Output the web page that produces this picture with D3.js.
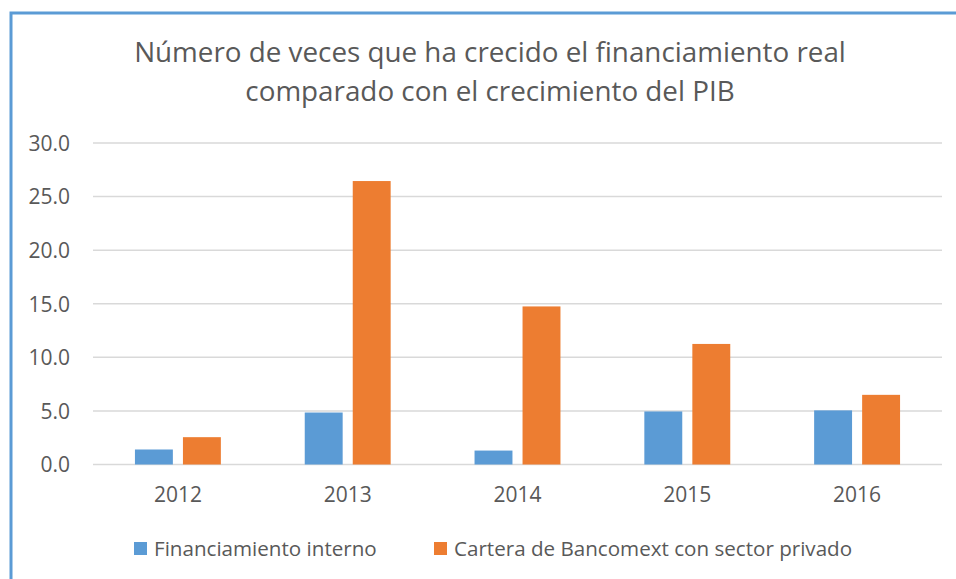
<!DOCTYPE html>
<html>
<head>
<meta charset="utf-8">
<script src="https://cdn.jsdelivr.net/npm/d3@7"></script>
<style>
body { margin: 0; background: #fff; }
svg { display: block; font-family: "Open Sans", "Noto Sans", sans-serif; }
</style>
</head>
<body>
<div id="chart"></div>
<script>
// Data.
var years = ['2012', '2013', '2014', '2015', '2016'];
var seriesNames = ['Financiamiento interno', 'Cartera de Bancomext con sector privado'];
var financiamientoInterno = [1.4, 4.85, 1.3, 4.95, 5.05];
var carteraBancomext = [2.55, 26.45, 14.75, 11.25, 6.5];
var yTicks = [0, 5, 10, 15, 20, 25, 30];
var titleLines = ['Número de veces que ha crecido el financiamiento real', 'comparado con el crecimiento del PIB'];

var colors = ['#5b9bd5', '#ed7d31'];
var textColor = '#595959';

var width = 956, height = 579;
var plot = { left: 93, right: 942, top: 143, bottom: 464.5 };

var svg = d3.select('#chart').append('svg')
	.attr('width', width)
	.attr('height', height);

// Blue frame, only top and left edges are visible.
svg.append('path')
	.attr('d', 'M11,' + height + 'V13H' + width)
	.attr('fill', 'none')
	.attr('stroke', '#5b9bd5')
	.attr('stroke-width', 3);

// Title, two lines.
svg.append('g')
	.selectAll('text')
	.data(titleLines)
	.enter().append('text')
	.attr('x', 490)
	.attr('y', function(d, i) { return 62 + i * 39; })
	.attr('text-anchor', 'middle')
	.attr('fill', textColor)
	.style('font-size', '27.8px')
	.text(function(d) { return d; });

var x0 = d3.scaleBand()
	.domain(years)
	.range([plot.left, plot.right])
	.paddingInner(0.494)
	.paddingOuter(0.247);

var x1 = d3.scaleBand()
	.domain(seriesNames)
	.range([0, x0.bandwidth()])
	.paddingInner(0.21);

var y = d3.scaleLinear()
	.domain([0, 30])
	.range([plot.bottom, plot.top]);

// Gridlines.
svg.append('g')
	.selectAll('line')
	.data(yTicks)
	.enter().append('line')
	.attr('x1', plot.left)
	.attr('x2', plot.right)
	.attr('y1', function(d) { return y(d); })
	.attr('y2', function(d) { return y(d); })
	.attr('stroke', '#d9d9d9')
	.attr('stroke-width', 1.5);

// strip the axis defaults so the labels use the page font
function styleAxis(g) {
	g.attr('font-family', null).attr('font-size', null);
	g.select('.domain').remove();
	g.selectAll('text')
		.attr('fill', textColor)
		.attr('dy', '0.35em')
		.style('font-size', '21px');
}

// Y axis labels.
var yAxis = d3.axisLeft(y)
	.tickValues(yTicks)
	.tickFormat(d3.format('.1f'))
	.tickSize(0)
	.tickPadding(0);

svg.append('g')
	.attr('transform', 'translate(70,0)')
	.call(yAxis)
	.call(styleAxis);

// X axis labels.
var xAxis = d3.axisBottom(x0)
	.tickSize(0)
	.tickPadding(0);

svg.append('g')
	.attr('transform', 'translate(0,495)')
	.call(xAxis)
	.call(styleAxis);

// Bars.
var rows = years.map(function(yr, i) {
	return { year: yr, values: [financiamientoInterno[i], carteraBancomext[i]] };
});

svg.append('g')
	.selectAll('g')
	.data(rows)
	.enter().append('g')
	.attr('transform', function(d) { return 'translate(' + x0(d.year) + ',0)'; })
	.selectAll('rect')
	.data(function(d) { return d.values; })
	.enter().append('rect')
	.attr('x', function(d, i) { return x1(seriesNames[i]); })
	.attr('width', x1.bandwidth())
	.attr('y', function(d) { return y(d); })
	.attr('height', function(d) { return y(0) - y(d); })
	.attr('fill', function(d, i) { return colors[i]; });

// Legend.
var legendX = [134, 434];
var legend = svg.append('g')
	.selectAll('g')
	.data(seriesNames)
	.enter().append('g')
	.attr('transform', function(d, i) { return 'translate(' + legendX[i] + ',542)'; });

legend.append('rect')
	.attr('width', 13)
	.attr('height', 13)
	.attr('fill', function(d, i) { return colors[i]; });

legend.append('text')
	.attr('x', 20)
	.attr('y', 6.5)
	.attr('dy', '0.35em')
	.attr('fill', textColor)
	.style('font-size', '20.6px')
	.text(function(d) { return d; });
</script>
</body>
</html>
